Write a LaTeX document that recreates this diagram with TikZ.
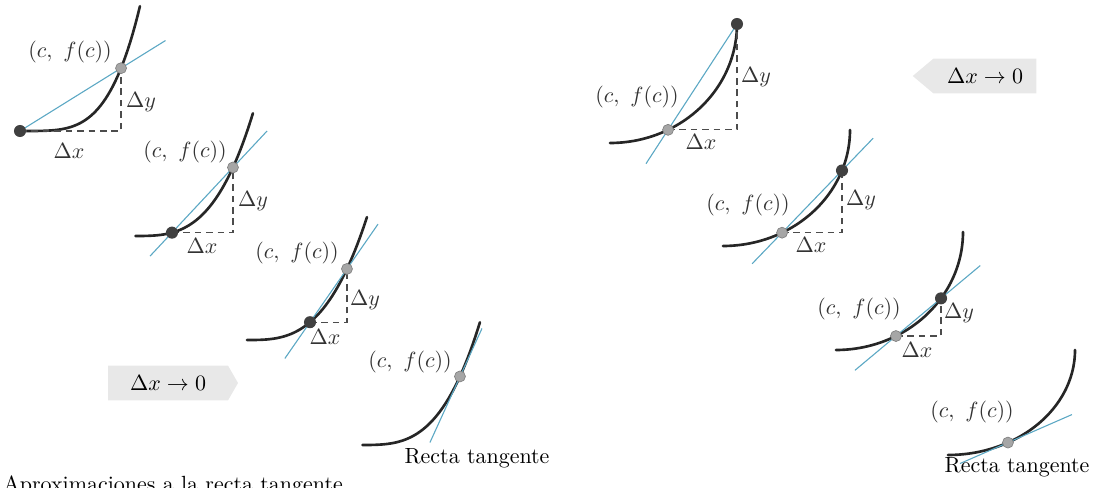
\documentclass[tikz,border=0pt]{standalone}
\usepackage{amsmath,amssymb}
\usepackage{tikz}
\usetikzlibrary{calc,positioning,shapes.symbols}
\definecolor{secblue}{RGB}{92,168,196}

\begin{document}
\begin{tikzpicture}[
    x=0.016cm, y=-0.016cm,
    curve/.style={line width=1.2pt, black!85, line cap=round},
    secline/.style={line width=0.5pt, secblue},
    hdash/.style={line width=0.5pt, black!70, dash pattern=on 3pt off 2.2pt},
    pdot/.style={circle, fill=black!75, inner sep=0pt, minimum size=5.5pt},
    cdot/.style={circle, fill=black!35, draw=black!50, line width=0.3pt,
                 inner sep=0pt, minimum size=5pt},
    lbl/.style={font=\normalsize, text=black!80, inner sep=0pt},
    limbox/.style={signal, fill=black!9, inner sep=0pt, minimum height=0.56cm,
                   font=\normalsize},
]
\useasboundingbox (0,0) rectangle (1094,488);
%% -- points on the curves --
\coordinate (pL1) at (20,131);
\coordinate (cL1) at ({20+120*0.842},{131-125*0.842^4});
\coordinate (pL2) at ({133+120*0.325},{236-123*0.325^3.2});
\coordinate (cL2) at ({133+120*0.833},{236-123*0.833^3.2});
\coordinate (pL3) at ({247+120*0.525},{340-123*0.525^3});
\coordinate (cL3) at ({247+120*0.833},{340-123*0.833^3});
\coordinate (cL4) at ({360+120*0.833},{445-123*0.833^3.2});
\coordinate (cR1) at ({610+127*0.457},{143-119*(1-sqrt(1-0.457^2))});
\coordinate (qR1) at (737,24);
\coordinate (cR2) at ({723+127*0.465},{246-116*(1-sqrt(1-0.465^2))});
\coordinate (qR2) at ({723+127*0.937},{246-116*(1-sqrt(1-0.937^2))});
\coordinate (cR3) at ({836+127*0.472},{350-118*(1-sqrt(1-0.472^2))});
\coordinate (qR3) at ({836+127*0.827},{350-118*(1-sqrt(1-0.827^2))});
\coordinate (cR4) at ({948+127*0.472},{455-105*(1-sqrt(1-0.472^2))});
%% -- left column: Delta x -> 0 from the left --
\draw[curve] plot[domain=0:1, samples=50] ({20+120*\x},{131-125*\x*\x*\x*\x});
\draw[secline] (pL1) -- ($(pL1)!1.44!(cL1)$);
\draw[hdash] (pL1) -| (cL1);
\node[lbl] (fL1) at (70,52) {$(c,\ f(c))$};
\node[lbl] (dyL1) at (141,102) {$\Delta y$};
\node[lbl] (dxL1) at (69,151) {$\Delta x$};

\draw[curve] plot[domain=0.02:1, samples=50] ({133+120*\x},{236-123*\x^3.2});
\draw[secline] ($(pL2)!-0.36!(cL2)$) -- ($(pL2)!1.56!(cL2)$);
\draw[hdash] (pL2) -| (cL2);
\node[lbl] (fL2) at (185,152) {$(c,\ f(c))$};
\node[lbl] (dyL2) at (253,201) {$\Delta y$};
\node[lbl] (dxL2) at (202,246) {$\Delta x$};

\draw[curve] plot[domain=0:1, samples=50] ({247+120*\x},{340-123*\x*\x*\x});
\draw[secline] ($(pL3)!-0.68!(cL3)$) -- ($(pL3)!1.84!(cL3)$);
\draw[hdash] (pL3) -| (cL3);
\node[lbl] (fL3) at (297,253) {$(c,\ f(c))$};
\node[lbl] (dyL3) at (365,300) {$\Delta y$};
\node[lbl] (dxL3) at (325,337) {$\Delta x$};

\draw[curve] plot[domain=0.02:1, samples=50] ({360+120*\x},{445-123*\x^3.2});
\draw[secline] ($(cL4)+(-30,66)$) -- ($(cL4)+(22,-48)$);
\node[lbl] (fL4) at (410,362) {$(c,\ f(c))$};
\node[lbl, text=black] (tgL) at (477,458) {Recta tangente};

\node[limbox, signal to=east, signal pointer angle=120, minimum width=2.08cm] (limL) at (168,383) {$\Delta x\to0$};
%% -- right column: Delta x -> 0 from the right --
\draw[curve] plot[domain=0:90, samples=50] ({610+127*sin(\x)},{143-119*(1-cos(\x))});
\draw[secline] ($(cR1)!-0.32!(qR1)$) -- (qR1);
\draw[hdash] (cR1) -| (qR1);
\node[lbl] (fR1) at (637,97) {$(c,\ f(c))$};
\node[lbl] (dyR1) at (756,77) {$\Delta y$};
\node[lbl] (dxR1) at (701,142) {$\Delta x$};

\draw[curve] plot[domain=0:90, samples=50] ({723+127*sin(\x)},{246-116*(1-cos(\x))});
\draw[secline] ($(cR2)!-0.5!(qR2)$) -- ($(cR2)!1.52!(qR2)$);
\draw[hdash] (cR2) -| (qR2);
\node[lbl] (fR2) at (748,205) {$(c,\ f(c))$};
\node[lbl] (dyR2) at (861,200) {$\Delta y$};
\node[lbl] (dxR2) at (811,245) {$\Delta x$};

\draw[curve] plot[domain=0:90, samples=50] ({836+127*sin(\x)},{350-118*(1-cos(\x))});
\draw[secline] ($(cR3)!-0.91!(qR3)$) -- ($(cR3)!1.87!(qR3)$);
\draw[hdash] (cR3) -| (qR3);
\node[lbl] (fR3) at (859,309) {$(c,\ f(c))$};
\node[lbl] (dyR3) at (959,313) {$\Delta y$};
\node[lbl] (dxR3) at (917,350) {$\Delta x$};

\draw[curve] plot[domain=0:90, samples=50] ({948+127*sin(\x)},{455-105*(1-cos(\x))});
\draw[secline] ($(cR4)+(-48,21)$) -- ($(cR4)+(64,-28)$);
\node[lbl] (fR4) at (972,412) {$(c,\ f(c))$};
\node[lbl, text=black] (tgR) at (1017,467) {Recta tangente};

\node[limbox, signal to=west, signal pointer angle=80, minimum width=1.98cm] (limR) at (985,76) {$\Delta x\to0$};
%% -- caption, cut by the page edge --
\node[anchor=base west, inner sep=0pt] (cap) at (3,491) {Aproximaciones a la recta tangente};
%% -- dots on top --
\foreach \q in {pL1,pL2,pL3,qR1,qR2,qR3}{
  \node[pdot] at (\q) {};
}
\foreach \q in {cL1,cL2,cL3,cL4,cR1,cR2,cR3,cR4}{
  \node[cdot] at (\q) {};
}
\end{tikzpicture}
\end{document}
